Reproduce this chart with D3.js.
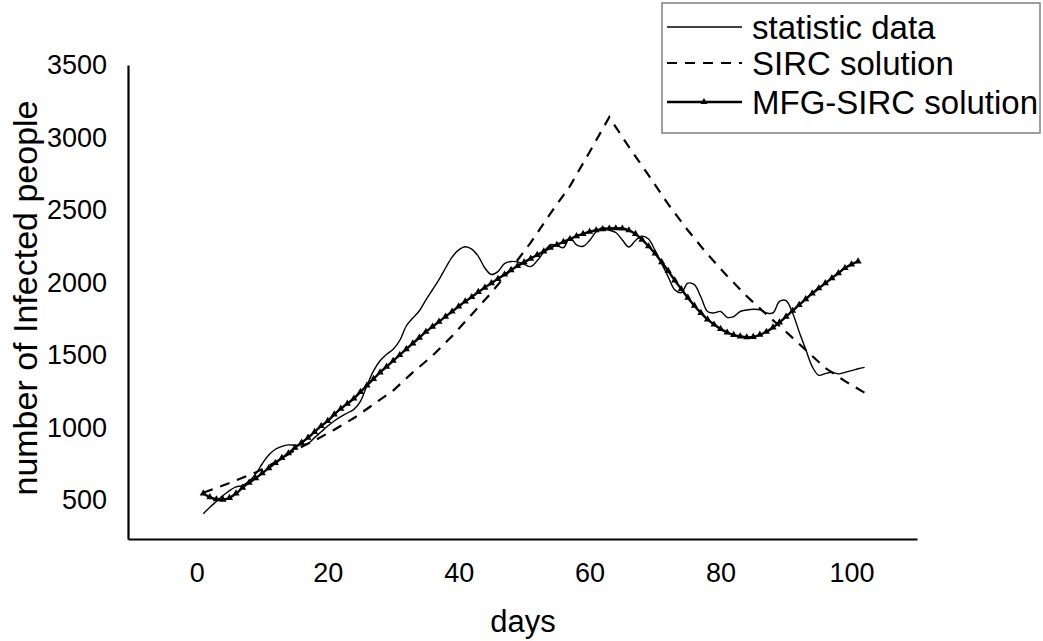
<!DOCTYPE html>
<html>
<head>
<meta charset="utf-8">
<script src="https://cdn.jsdelivr.net/npm/d3@7"></script>
<style>
  body { margin: 0; background: #fff; }
  text { font-family: "Liberation Sans", Arial, sans-serif; fill: #000; }
</style>
</head>
<body>
<svg></svg>
<script>
// Data
var statDays = d3.range(1, 103);
var statValues = [405, 450, 490, 530, 565, 590, 600, 630, 680, 750,
    810, 850, 870, 880, 878, 880, 890, 930, 970, 1010,
    1045, 1075, 1100, 1125, 1180, 1290, 1390, 1460, 1505, 1540,
    1600, 1700, 1755, 1805, 1880, 1950, 2020, 2100, 2175, 2225,
    2247, 2230, 2180, 2100, 2055, 2075, 2130, 2145, 2142, 2125,
    2110, 2150, 2210, 2260, 2255, 2240, 2310, 2260, 2250, 2290,
    2350, 2380, 2360, 2345, 2293, 2245, 2290, 2320, 2300, 2220,
    2130, 2040, 1950, 1930, 1995, 1985, 1900, 1800, 1790, 1800,
    1760, 1765, 1800, 1810, 1815, 1812, 1790, 1790, 1870, 1875,
    1790, 1660, 1540, 1420, 1360, 1372, 1381, 1370, 1380, 1392,
    1405, 1415];

var sircDays = [1, 5, 9, 12, 15, 18, 21, 24, 27, 30, 33, 36, 39, 42, 45, 48, 51, 54, 57, 60,
    63, 66, 69, 72, 75, 78, 81, 84, 87, 90, 93, 96, 99, 102];
var sircValues = [550, 617, 690, 760, 845, 910, 985, 1065, 1160, 1255, 1380, 1495, 1630, 1780, 1930, 2095, 2275, 2475, 2665, 2900,
    3140, 2935, 2740, 2540, 2360, 2195, 2045, 1905, 1780, 1660, 1535, 1410, 1320, 1240];

var mfgDays = d3.range(1, 102);
var mfgValues = [545, 520, 505, 502, 515, 545, 585, 620, 650, 685,
    720, 755, 790, 822, 860, 895, 930, 970, 1010, 1045,
    1090, 1130, 1165, 1200, 1245, 1290, 1335, 1380, 1420, 1460,
    1500, 1540, 1580, 1620, 1660, 1695, 1730, 1765, 1800, 1835,
    1870, 1900, 1935, 1965, 1995, 2025, 2055, 2085, 2115, 2140,
    2165, 2190, 2215, 2240, 2260, 2280, 2300, 2320, 2335, 2350,
    2360, 2368, 2372, 2374, 2372, 2360, 2335, 2295, 2250, 2200,
    2140, 2080, 2015, 1955, 1895, 1840, 1790, 1745, 1710, 1680,
    1655, 1638, 1628, 1622, 1625, 1640, 1660, 1690, 1725, 1765,
    1805, 1845, 1885, 1925, 1960, 1995, 2030, 2065, 2100, 2125,
    2145];

var xTicks = [0, 20, 40, 60, 80, 100];
var yTicks = [500, 1000, 1500, 2000, 2500, 3000, 3500];
var legendNames = ["statistic data", "SIRC solution", "MFG-SIRC solution"];

var width = 1043, height = 641;

var svg = d3.select("svg")
    .attr("width", width)
    .attr("height", height);

// Scales
var x = d3.scaleLinear()
    .domain([-10.5, 110])
    .range([128, 917]);

var y = d3.scaleLinear()
    .domain([231, 3500])
    .range([539, 65]);

// Axes (no tick marks, only labels)
var xAxis = svg.append("g")
    .attr("transform", "translate(0,539)")
    .call(d3.axisBottom(x).tickValues(xTicks).tickSize(0).tickPadding(24).tickFormat(d3.format("d")));

var yAxis = svg.append("g")
    .attr("transform", "translate(128,0)")
    .call(d3.axisLeft(y).tickValues(yTicks).tickSize(0).tickPadding(21).tickFormat(d3.format("d")));

[xAxis, yAxis].forEach(function(g) {
    g.select(".domain").attr("stroke", "#000").attr("stroke-width", 2.2);
    g.selectAll("text")
        .style("font-size", "27px")
        .style("font-family", "'Liberation Sans', Arial, sans-serif")
        .attr("fill", "#000");
});

// Axis titles
svg.append("text")
    .attr("x", 523)
    .attr("y", 632)
    .attr("text-anchor", "middle")
    .style("font-size", "31px")
    .text("days");

svg.append("text")
    .attr("transform", "translate(25,298) rotate(-90)")
    .attr("text-anchor", "middle")
    .attr("dominant-baseline", "central")
    .style("font-size", "34px")
    .text("number of Infected people");

// Lines
var statLine = d3.line()
    .x(function(d, i) { return x(statDays[i]); })
    .y(function(d) { return y(d); })
    .curve(d3.curveCatmullRom);

var sircLine = d3.line()
    .x(function(d, i) { return x(sircDays[i]); })
    .y(function(d) { return y(d); });

var mfgLine = d3.line()
    .x(function(d, i) { return x(mfgDays[i]); })
    .y(function(d) { return y(d); })
    .curve(d3.curveCatmullRom);

svg.append("path")
    .datum(sircValues)
    .attr("fill", "none")
    .attr("stroke", "#000")
    .attr("stroke-width", 2.2)
    .attr("stroke-dasharray", "10,8")
    .attr("d", sircLine);

svg.append("path")
    .datum(statValues)
    .attr("fill", "none")
    .attr("stroke", "#000")
    .attr("stroke-width", 1.4)
    .attr("d", statLine);

svg.append("path")
    .datum(mfgValues)
    .attr("fill", "none")
    .attr("stroke", "#000")
    .attr("stroke-width", 2.4)
    .attr("d", mfgLine);

var tri = d3.symbol().type(d3.symbolTriangle).size(22);

svg.append("g")
    .selectAll("path")
    .data(mfgValues)
    .enter()
    .append("path")
    .attr("transform", function(d, i) { return "translate(" + x(mfgDays[i]) + "," + y(d) + ")"; })
    .attr("d", tri)
    .attr("fill", "#000");

// Legend
var legend = svg.append("g");

legend.append("rect")
    .attr("x", 662)
    .attr("y", 3)
    .attr("width", 378)
    .attr("height", 130)
    .attr("fill", "#fff")
    .attr("stroke", "#808080")
    .attr("stroke-width", 1.5);

var legendY = [27, 63, 102];
var legendDash = [null, "10,8", null];
var legendWidth = [1.4, 2.2, 2.4];

legendNames.forEach(function(name, i) {
    legend.append("line")
        .attr("x1", 667)
        .attr("x2", 742)
        .attr("y1", legendY[i])
        .attr("y2", legendY[i])
        .attr("stroke", "#000")
        .attr("stroke-width", legendWidth[i])
        .attr("stroke-dasharray", legendDash[i]);

    legend.append("text")
        .attr("x", 752)
        .attr("y", legendY[i])
        .attr("dominant-baseline", "central")
        .style("font-size", "33px")
        .text(name);
});

legend.append("path")
    .attr("transform", "translate(704," + legendY[2] + ")")
    .attr("d", tri)
    .attr("fill", "#000");
</script>
</body>
</html>
